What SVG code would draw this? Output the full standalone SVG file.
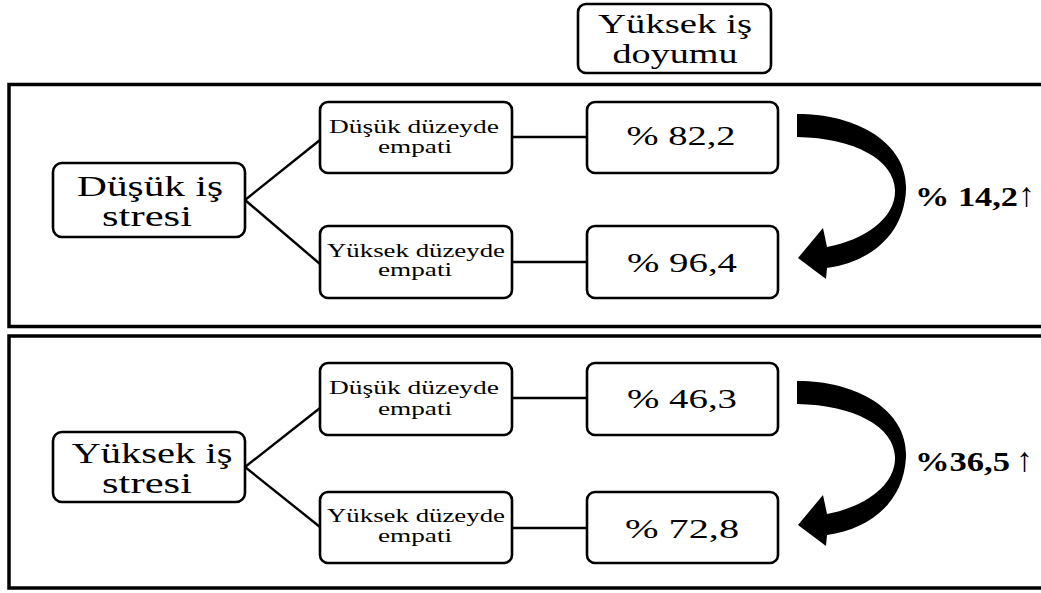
<svg xmlns="http://www.w3.org/2000/svg" width="1041" height="593" viewBox="0 0 1041 593">
<style>
.frame{fill:none;stroke:#000;stroke-width:3.5}
.box{fill:#fff;stroke:#000;stroke-width:2.6}
.con{stroke:#000;stroke-width:2.4;fill:none}
.t{font-family:'Liberation Serif',serif;fill:#000;text-anchor:middle}
.big{font-size:29px}
.mid{font-size:28px}
.sm{font-size:19px}
.lab{font-family:'Liberation Serif',serif;font-size:27px;font-weight:bold;fill:#000}
.up{font-family:'Liberation Serif',serif;font-weight:normal;font-size:34px}
.arr{fill:#000}
</style>
<defs>
<path id="curv" d="M797 114 C860 114 908 145 906 190 C904 235 870 262 827 268 L826 279 L798 258 L823 228 L827 247 C865 240 896 218 895 190 C894 160 855 138 797 137 Z"/>
</defs>
<g id="frames">
<rect class="frame" x="9" y="84.5" width="1045" height="242"/>
<rect class="frame" x="9" y="336" width="1045" height="252"/>
</g>
<g id="connectors">
<line class="con" x1="245" y1="200" x2="320" y2="140"/>
<line class="con" x1="245" y1="200" x2="320" y2="264"/>
<line class="con" x1="512" y1="137" x2="587" y2="137"/>
<line class="con" x1="512" y1="262" x2="587" y2="262"/>
<line class="con" x1="245" y1="467" x2="320" y2="408"/>
<line class="con" x1="245" y1="467" x2="320" y2="527"/>
<line class="con" x1="512" y1="398" x2="587" y2="398"/>
<line class="con" x1="512" y1="528" x2="587" y2="528"/>
</g>
<g id="header">
<rect class="box" x="578" y="4" width="193" height="69" rx="8"/>
<text class="t mid" x="675" y="33" textLength="154" lengthAdjust="spacingAndGlyphs">Yüksek iş</text>
<text class="t mid" x="675" y="63" textLength="125" lengthAdjust="spacingAndGlyphs">doyumu</text>
</g>
<g id="low-stress">
<rect class="box" x="53" y="163" width="192" height="74" rx="9"/>
<text class="t big" x="150" y="196" textLength="146" lengthAdjust="spacingAndGlyphs">Düşük iş</text>
<text class="t big" x="147" y="226" textLength="90" lengthAdjust="spacingAndGlyphs">stresi</text>
</g>
<g id="low-low-emp">
<rect class="box" x="320" y="102" width="192" height="71" rx="8"/>
<text class="t sm" x="414" y="133" textLength="170" lengthAdjust="spacingAndGlyphs">Düşük düzeyde</text>
<text class="t sm" x="415" y="153" textLength="74" lengthAdjust="spacingAndGlyphs">empati</text>
</g>
<g id="low-high-emp">
<rect class="box" x="320" y="226" width="192" height="72" rx="8"/>
<text class="t sm" x="416" y="257" textLength="178" lengthAdjust="spacingAndGlyphs">Yüksek düzeyde</text>
<text class="t sm" x="415" y="276" textLength="74" lengthAdjust="spacingAndGlyphs">empati</text>
</g>
<g id="pct-822">
<rect class="box" x="587" y="102" width="191" height="71" rx="8"/>
<text class="t mid" x="681" y="145" textLength="109" lengthAdjust="spacingAndGlyphs">% 82,2</text>
</g>
<g id="pct-964">
<rect class="box" x="587" y="226" width="191" height="72" rx="8"/>
<text class="t mid" x="682" y="272" textLength="110" lengthAdjust="spacingAndGlyphs">% 96,4</text>
</g>
<g id="arrow-top">
<use href="#curv" class="arr"/>
<text class="lab" x="915" y="206"><tspan textLength="103" lengthAdjust="spacingAndGlyphs">% 14,2</tspan><tspan class="up" dx="0">↑</tspan></text>
</g>
<g id="high-stress">
<rect class="box" x="53" y="432" width="192" height="70" rx="9"/>
<text class="t big" x="152" y="463" textLength="161" lengthAdjust="spacingAndGlyphs">Yüksek iş</text>
<text class="t big" x="147" y="493" textLength="90" lengthAdjust="spacingAndGlyphs">stresi</text>
</g>
<g id="high-low-emp">
<rect class="box" x="320" y="363" width="192" height="72" rx="8"/>
<text class="t sm" x="414" y="394" textLength="170" lengthAdjust="spacingAndGlyphs">Düşük düzeyde</text>
<text class="t sm" x="415" y="415" textLength="74" lengthAdjust="spacingAndGlyphs">empati</text>
</g>
<g id="high-high-emp">
<rect class="box" x="320" y="492" width="192" height="71" rx="8"/>
<text class="t sm" x="416" y="522" textLength="178" lengthAdjust="spacingAndGlyphs">Yüksek düzeyde</text>
<text class="t sm" x="415" y="542" textLength="74" lengthAdjust="spacingAndGlyphs">empati</text>
</g>
<g id="pct-463">
<rect class="box" x="587" y="363" width="191" height="72" rx="8"/>
<text class="t mid" x="682" y="408" textLength="110" lengthAdjust="spacingAndGlyphs">% 46,3</text>
</g>
<g id="pct-728">
<rect class="box" x="587" y="492" width="191" height="71" rx="8"/>
<text class="t mid" x="682" y="538" textLength="114" lengthAdjust="spacingAndGlyphs">% 72,8</text>
</g>
<g id="arrow-bottom">
<use href="#curv" class="arr" transform="translate(0,267)"/>
<text class="lab" x="915" y="471"><tspan textLength="95" lengthAdjust="spacingAndGlyphs">%36,5</tspan><tspan class="up" dx="6">↑</tspan></text>
</g>
</svg>
